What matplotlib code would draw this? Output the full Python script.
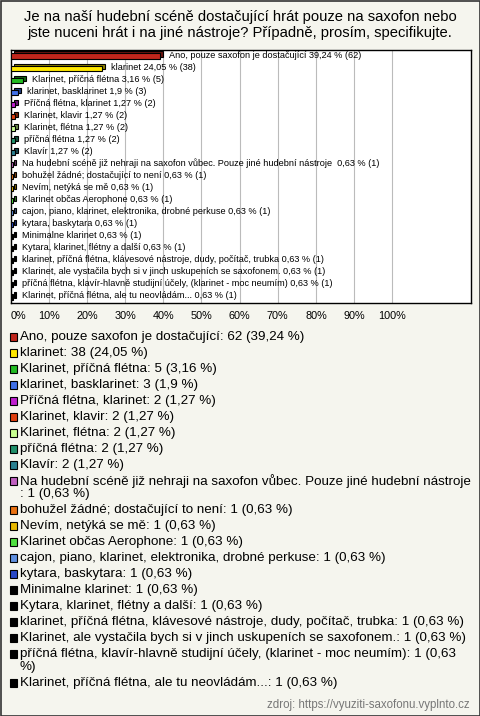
import matplotlib
matplotlib.use('Agg')
import matplotlib.pyplot as plt
from matplotlib.patches import Rectangle
from matplotlib.transforms import offset_copy

plt.rcParams['font.family'] = ['Liberation Sans', 'DejaVu Sans']

#===data=====================================
title = 'Je na naší hudební scéně dostačující hrát pouze na saxofon nebo\njste nuceni hrát i na jiné nástroje? Případně, prosím, specifikujte.'
names = ['Ano, pouze saxofon je dostačující', 'klarinet', 'Klarinet, příčná flétna',
         'klarinet, basklarinet', 'Příčná flétna, klarinet', 'Klarinet, klavir',
         'Klarinet, flétna', 'příčná flétna', 'Klavír',
         'Na hudební scéně již nehraji na saxofon vůbec. Pouze jiné hudební nástroje ',
         'bohužel žádné; dostačující to není', 'Nevím, netýká se mě', 'Klarinet občas Aerophone',
         'cajon, piano, klarinet, elektronika, drobné perkuse', 'kytara, baskytara',
         'Minimalne klarinet', 'Kytara, klarinet, flétny a další',
         'klarinet, příčná flétna, klávesové nástroje, dudy, počítač, trubka',
         'Klarinet, ale vystačila bych si v jinch uskupeních se saxofonem.',
         'příčná flétna, klavír-hlavně studijní účely, (klarinet - moc neumím)',
         'Klarinet, příčná flétna, ale tu neovládám...']
counts = [62, 38, 5, 3, 2, 2, 2, 2, 2, 1, 1, 1, 1, 1, 1, 1, 1, 1, 1, 1, 1]
pcts = [39.24, 24.05, 3.16, 1.9, 1.27, 1.27, 1.27, 1.27, 1.27,
        0.63, 0.63, 0.63, 0.63, 0.63, 0.63, 0.63, 0.63, 0.63, 0.63, 0.63, 0.63]
colors = ['#c0261c', '#ffe800', '#22bb22', '#4070e8', '#c020d0', '#e04010', '#c8ff90',
          '#20906a', '#2a8090', '#c060c0', '#e87010', '#e8b800', '#50e040', '#6090e0',
          '#2848c8', '#000000', '#000000', '#000000', '#000000', '#000000', '#000000']
source = 'zdroj: https://vyuziti-saxofonu.vyplnto.cz'

def fmt(p):
    return str(p).replace('.', ',')

def darker(c, f=0.55):
    r, g, b, a = matplotlib.colors.to_rgba(c)
    return (r*f, g*f, b*f)

#===figure=====================================
W, H = 480, 716
fig = plt.figure(figsize=(W/100, H/100), dpi=100)
fig.patch.set_facecolor('#f5f5ee')

# pixel overlay for title, legend, border
ov = fig.add_axes([0, 0, 1, 1])
ov.set_xlim(0, W)
ov.set_ylim(H, 0)
ov.axis('off')
ov.add_patch(Rectangle((0.5, 0.5), W-1, H-1, fill=False, ec='#333333', lw=1.2))
ov.text(240, 25, title, ha='center', va='center', fontsize=10.6, linespacing=1.15)

# chart axes (pixel box 10.5..470.5 x 50..303)
ax = fig.add_axes([10.5/W, 1-303/H, 460/W, 253/H])
ax.set_facecolor('white')
ypos = list(range(len(names)))
back = offset_copy(ax.transData, fig=fig, x=3, y=2, units='dots')
ax.barh(ypos, pcts, height=0.42, color=[darker(c) for c in colors], edgecolor='black',
        linewidth=0.8, transform=back, zorder=3)
ax.barh(ypos, pcts, height=0.42, color=colors, edgecolor='black', linewidth=0.8, zorder=4)
for i in ypos:
    ax.annotate(f'{names[i]} {fmt(pcts[i])} % ({counts[i]})', (pcts[i], i),
                xytext=(9, 1), textcoords='offset pixels', va='center', ha='left',
                fontsize=6.6, zorder=5)
ax.set_xlim(0, 120.5)
ax.set_ylim(len(names)-0.5, -0.5)
ax.set_xticks(range(0, 101, 10))
ax.set_xticklabels([f'{t}%' for t in range(0, 101, 10)], fontsize=7.8)
ax.get_xticklabels()[0].set_ha('left')
ax.set_yticks([])
ax.tick_params(axis='x', length=0, pad=6)
ax.grid(axis='x', color='#bbbbbb', lw=0.8, zorder=0)
ax.set_axisbelow(True)
for s in ax.spines.values():
    s.set_linewidth(1)
    s.set_color('black')

#===legend=====================================
y = 337
for i in range(len(names)):
    lab = f'{names[i]}: {counts[i]} ({fmt(pcts[i])} %)'
    if i == 9:
        lab = f'{names[i]}\n: {counts[i]} ({fmt(pcts[i])} %)'
    if i == 19:
        lab = f'{names[i]}: {counts[i]} (0,63\n%)'
    ov.add_patch(Rectangle((9.5, y-3.7), 7.5, 7.5, fc=colors[i], ec='black', lw=0.8))
    lines = lab.split('\n')
    for k, line in enumerate(lines):
        ov.text(20, y, line, ha='left', va='center', fontsize=9.6)
        if k < len(lines) - 1:
            y += 13
    y += 16

ov.text(470, 705, source, ha='right', va='center', fontsize=8.3, color='#777777')

fig.savefig('out.png', dpi=100, facecolor=fig.get_facecolor())
